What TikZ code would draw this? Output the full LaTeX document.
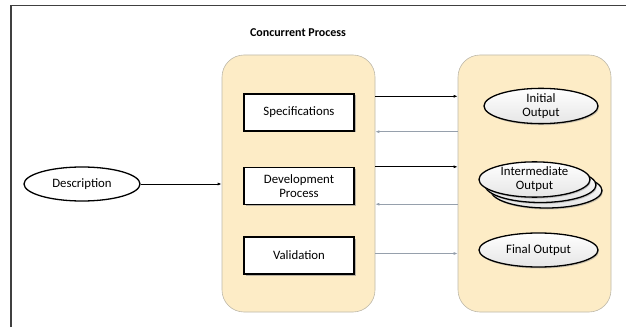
\documentclass[tikz,border=0pt]{standalone}
\usepackage{fontspec}
\setmainfont{Carlito}
\usetikzlibrary{arrows.meta,shapes.geometric,shadows}

\definecolor{panelfill}{RGB}{253,236,198}
\definecolor{paneldraw}{RGB}{190,185,170}
\definecolor{backline}{RGB}{150,160,172}

\begin{document}
\begin{tikzpicture}[x=1pt,y=1pt,
	panel/.style={draw=paneldraw, fill=panelfill, rounded corners=22pt, minimum width=153pt, minimum height=257pt, line width=0.6pt},
	stage/.style={draw, fill=white, line width=1.4pt, minimum width=110pt, minimum height=37pt, align=center, inner sep=1pt,
		font=\fontsize{12.8}{14.5}\selectfont, drop shadow={shadow xshift=1.5pt, shadow yshift=-1.5pt, fill=black!45, opacity=0.6}},
	result/.style={ellipse, draw, line width=1.3pt, top color=white, bottom color=black!10, minimum width=114pt, minimum height=34pt,
		inner sep=0pt, align=center, font=\fontsize{12.8}{14}\selectfont, drop shadow={shadow xshift=1pt, shadow yshift=-1.5pt, fill=black!40, opacity=0.5}},
	fwd/.style={-{Latex[length=4pt,width=3pt]}, line width=0.8pt},
	bwd/.style={-{Latex[length=4pt,width=3pt]}, line width=0.8pt, backline}]
\useasboundingbox (0,0) rectangle (626,327);

% frame
\draw[line width=1.4pt, black!75] (11,0) -- (11,321.5) -- (626,321.5);

% the two columns
\node[panel] (lpanel) at (298.5,143.5) {};
\node[panel] (rpanel) at (534.5,143.5) {};
\node[font=\fontsize{12}{14}\selectfont\bfseries] (title) at (298,294) {Concurrent Process};

% process stages
\node[stage] (spec) at (299,214.5) {Specifications};
\node[stage] (dev) at (299,141) {Development\\Process};
\node[stage] (val) at (299,71.5) {Validation};

% outputs
\node[result] (init) at (541,221) {Initial\\Output};
\node[result, minimum width=111pt, minimum height=35pt] (inter3) at (546.5,136.5) {};
\node[result, minimum width=111pt, minimum height=35pt] (inter2) at (540.5,142) {};
\node[result, minimum width=111pt, minimum height=35pt] (inter) at (534.5,147.5) {Intermediate\\Output};
\node[result, minimum width=119pt] (final) at (538.5,77) {Final Output};

\node[ellipse, draw, line width=1.3pt, fill=white, minimum width=116pt, minimum height=34pt, inner sep=0pt,
	font=\fontsize{12.8}{14}\selectfont] (desc) at (82,143) {Description};

% connectors
\draw[fwd] (desc) -- (desc -| lpanel.west);
\draw[fwd] ([yshift=-3pt]spec.north -| lpanel.east) -- ([yshift=-3pt]spec.north -| rpanel.west);
\draw[bwd] (spec.south -| rpanel.west) -- (spec.south -| lpanel.east);
\draw[fwd] (dev.north -| lpanel.east) -- (dev.north -| rpanel.west);
\draw[bwd] ([yshift=1pt]dev.south -| rpanel.west) -- ([yshift=1pt]dev.south -| lpanel.east);
\draw[bwd] ([yshift=2pt]val.east -| lpanel.east) -- ([yshift=2pt]val.east -| rpanel.west);

\end{tikzpicture}
\end{document}
